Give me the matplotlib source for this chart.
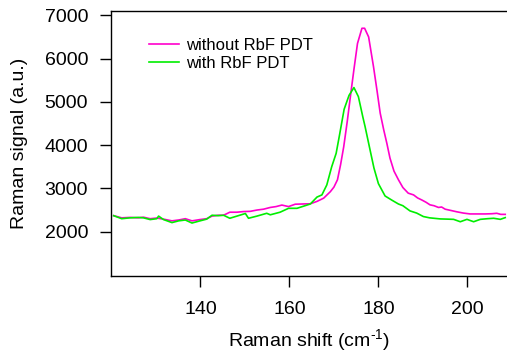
import numpy as np
import matplotlib
matplotlib.use("Agg")
from matplotlib import pyplot as plt

plt.rcParams["font.family"] = ["Liberation Sans", "DejaVu Sans"]
plt.rcParams["mathtext.fontset"] = "custom"
plt.rcParams["mathtext.rm"] = "Liberation Sans"
plt.rcParams["mathtext.it"] = "Liberation Sans:italic"
plt.rcParams["mathtext.bf"] = "Liberation Sans:bold"

# Raman spectra
shift_without = [120.5, 122.3, 124.2, 126.0, 127.2, 128.7, 130.2, 131.7, 133.6, 135.1,
                 136.6, 138.1, 139.9, 141.4, 142.6, 144.0, 145.2, 146.6, 148.2, 149.7,
                 151.2, 152.7, 154.2, 155.7, 157.0, 158.3, 159.8, 161.3, 163.0, 164.7,
                 166.2, 167.7, 169.2, 170.0, 170.8, 171.5, 172.2, 173.0, 173.7, 174.5,
                 175.3, 176.3, 176.9, 177.8, 178.9, 179.7, 180.4, 181.2, 181.9, 182.6,
                 183.5, 184.5, 185.5, 186.7, 187.9, 188.8, 189.8, 190.7, 191.6, 192.5,
                 193.5, 194.2, 195.0, 196.3, 197.6, 199.1, 200.6, 202.1, 204.0, 205.5,
                 206.6, 207.5, 208.5]
signal_without = [2370, 2320, 2330, 2320, 2335, 2300, 2315, 2290, 2250, 2270,
                  2300, 2250, 2280, 2300, 2360, 2380, 2380, 2450, 2450, 2465,
                  2470, 2500, 2520, 2560, 2580, 2615, 2580, 2635, 2640, 2645,
                  2700, 2775, 2925, 3030, 3200, 3550, 3960, 4550, 5120, 5750,
                  6350, 6700, 6700, 6500, 5810, 5250, 4740, 4350, 4040, 3700,
                  3400, 3200, 3020, 2890, 2850, 2780, 2730, 2680, 2620, 2600,
                  2560, 2570, 2520, 2490, 2460, 2430, 2410, 2410, 2410, 2415,
                  2425, 2400, 2400]

shift_with = [120.5, 122.3, 124.2, 126.0, 127.2, 128.7, 130.2, 130.6, 131.7, 133.6,
              135.1, 136.6, 138.1, 139.9, 141.4, 142.6, 144.0, 145.2, 146.6, 148.2,
              150.1, 150.8, 152.7, 154.9, 155.7, 157.9, 159.8, 161.7, 163.5, 164.7,
              166.2, 167.3, 168.4, 169.5, 170.5, 171.2, 172.3, 173.4, 174.5, 175.5,
              176.5, 177.0, 178.1, 179.0, 180.0, 181.5, 183.0, 184.5, 185.5, 187.1,
              188.6, 190.1, 191.5, 193.9, 195.5, 196.9, 198.4, 199.9, 201.4, 202.9,
              204.5, 205.9, 207.4, 208.5]
signal_with = [2370, 2300, 2320, 2330, 2320, 2280, 2300, 2360, 2280, 2210,
               2250, 2270, 2200, 2250, 2290, 2380, 2370, 2380, 2310, 2360,
               2420, 2310, 2360, 2425, 2390, 2450, 2540, 2540, 2600, 2640,
               2800, 2850, 3080, 3500, 3810, 4200, 4830, 5150, 5330, 5120,
               4650, 4430, 3900, 3470, 3110, 2825, 2730, 2640, 2600, 2480,
               2430, 2350, 2320, 2295, 2290, 2285, 2230, 2285, 2230, 2285,
               2300, 2310, 2285, 2325]

fig = plt.figure(figsize=(5.07, 3.56), dpi=100)
ax = fig.add_axes([111 / 507, (356 - 275.7) / 356, 1 - 111 / 507, (275.7 - 10.7) / 356])

ax.plot(shift_without, signal_without, color="#ff00cc", linewidth=1.2, label="without RbF PDT")
ax.plot(shift_with, signal_with, color="#00ee00", linewidth=1.2, label="with RbF PDT")

ax.set_xlim(119.9, 208.9)
ax.set_ylim(983, 7106)
ax.set_xticks([140, 160, 180, 200])
ax.set_yticks([2000, 3000, 4000, 5000, 6000, 7000])
ax.spines["right"].set_visible(False)
for s in ["left", "bottom", "top"]:
    ax.spines[s].set_linewidth(1.0)
ax.tick_params(direction="out", length=8, width=1.0, labelsize=14)
ax.tick_params(axis="x", pad=10)
ax.tick_params(axis="y", pad=8.5)

ax.set_xlabel(r"Raman shift (cm$^{\text{-1}}$)", fontsize=14, labelpad=7)
ax.set_ylabel("Raman signal (a.u.)", fontsize=14, labelpad=12)

ax.legend(loc="upper left", bbox_to_anchor=(149 / 507, (356 - 38) / 356),
          bbox_transform=fig.transFigure, frameon=False, fontsize=12,
          borderpad=0, borderaxespad=0, handlelength=1.8, handletextpad=0.45,
          labelspacing=0.2)

fig.savefig("out.png", dpi=100)
